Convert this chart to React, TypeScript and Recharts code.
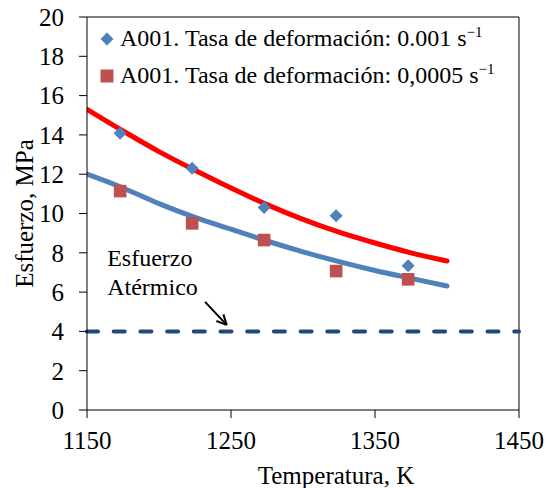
import React from 'react';
import {
  ComposedChart, Line, Scatter, XAxis, YAxis, ReferenceLine, ReferenceDot,
} from 'recharts';

const xTicks = [1150, 1250, 1350, 1450];
const yTicks = [0, 2, 4, 6, 8, 10, 12, 14, 16, 18, 20];

const tempK = [1173, 1223, 1273, 1323, 1373];
const stressRate001 = [14.08, 12.3, 10.3, 9.89, 7.34];
const stressRate0005 = [11.14, 9.5, 8.65, 7.07, 6.65];

const fitTemps = [1150, 1175, 1200, 1225, 1250, 1275, 1300, 1325, 1350, 1375, 1400];
const fitRate001 = [15.3, 14.2, 13.15, 12.2, 11.3, 10.45, 9.7, 9.05, 8.5, 8.0, 7.58];
const fitRate0005 = [12.0, 11.3, 10.5, 9.8, 9.2, 8.6, 8.05, 7.55, 7.1, 6.7, 6.31];

const athermalStress = 4;
const annotationLines = ['Esfuerzo', 'Atérmico'];
const annotationTextX = 1164;
const annotationTextY = [7.74, 6.26];
const arrowFrom = { x: 1232, y: 5.5 };
const arrowTo = { x: 1247, y: 4.33 };

const legendLabels = [
  'A001. Tasa de deformación: 0.001 s',
  'A001. Tasa de deformación: 0,0005 s',
];

const pts001 = tempK.map((x, i) => ({ x, y: stressRate001[i] }));
const pts0005 = tempK.map((x, i) => ({ x, y: stressRate0005[i] }));
const fit001 = fitTemps.map((x, i) => ({ x, y: fitRate001[i] }));
const fit0005 = fitTemps.map((x, i) => ({ x, y: fitRate0005[i] }));

const FONT = '"Liberation Serif", serif';
const BLUE = '#4F81BD';
const MARKER_RED = '#C0504D';

const Diamond = (props: any) => {
  const { cx, cy } = props;
  const r = 6.5;
  return <polygon points={`${cx},${cy - r} ${cx + r},${cy} ${cx},${cy + r} ${cx - r},${cy}`} fill={BLUE} />;
};
const Square = (props: any) => {
  const { cx, cy } = props;
  const r = 6.3;
  return <rect x={cx - r} y={cy - r} width={2 * r} height={2 * r} fill={MARKER_RED} />;
};

const Arrow = (props: any) => {
  const { x1, y1, x2, y2 } = props;
  const ang = Math.atan2(y2 - y1, x2 - x1);
  const L = 11;
  const a1 = ang + Math.PI - 0.45;
  const a2 = ang + Math.PI + 0.45;
  return (
    <g stroke="#000" strokeWidth={2} fill="none">
      <line x1={x1} y1={y1} x2={x2} y2={y2} />
      <line x1={x2} y1={y2} x2={x2 + L * Math.cos(a1)} y2={y2 + L * Math.sin(a1)} />
      <line x1={x2} y1={y2} x2={x2 + L * Math.cos(a2)} y2={y2 + L * Math.sin(a2)} />
    </g>
  );
};

const LegendBox = () => (
  <div style={{ position: 'absolute', left: 100, top: 20, fontFamily: FONT, fontSize: 24, color: '#000' }}>
    {legendLabels.map((t, i) => (
      <div key={i} style={{ display: 'flex', alignItems: 'center', height: 37, whiteSpace: 'nowrap' }}>
        <svg width={14} height={14} style={{ marginRight: 6 }}>
          {i === 0 ? (
            <polygon points="7,0.5 13.5,7 7,13.5 0.5,7" fill={BLUE} />
          ) : (
            <rect x={0.5} y={0.5} width={13} height={13} fill={MARKER_RED} />
          )}
        </svg>
        <span>
          {t}
          <span style={{ fontSize: 15, position: 'relative', top: -9 }}>−1</span>
        </span>
      </div>
    ))}
  </div>
);

export default function App() {
  return (
    <div style={{ position: 'absolute', left: 0, top: 0, width: 548, height: 488, background: '#fff', fontFamily: FONT }}>
      <ComposedChart width={548} height={488} margin={{ top: 17, right: 29, left: 0, bottom: 0 }} style={{ fontFamily: FONT }}>
        <XAxis
          type="number"
          dataKey="x"
          domain={[1150, 1450]}
          ticks={xTicks}
          interval={0}
          allowDataOverflow
          height={78}
          stroke="#000"
          tickSize={8}
          tickMargin={13}
          tick={{ fill: '#000', fontSize: 25, fontFamily: FONT }}
          label={{
            content: (p: any) => {
              const vb = p.viewBox;
              return (
                <text x={vb.x + vb.width / 2 + 33} y={475} textAnchor="middle" dominantBaseline="central"
                  fill="#000" fontSize={25} fontFamily={FONT}>Temperatura, K</text>
              );
            },
          }}
        />
        <YAxis
          type="number"
          domain={[0, 20]}
          ticks={yTicks}
          interval={0}
          width={87}
          stroke="#000"
          tickSize={8}
          tickMargin={15}
          tick={{ fill: '#000', fontSize: 25, fontFamily: FONT }}
          label={{
            content: (p: any) => {
              const vb = p.viewBox;
              const cx = 24;
              const cy = vb.y + vb.height / 2;
              return (
                <text x={cx} y={cy} textAnchor="middle" dominantBaseline="central"
                  transform={`rotate(-90, ${cx}, ${cy})`} fill="#000" fontSize={25} fontFamily={FONT}>
                  Esfuerzo, MPa
                </text>
              );
            },
          }}
        />
        <ReferenceLine y={20} stroke="#000" strokeWidth={1} />
        <ReferenceLine x={1450} stroke="#000" strokeWidth={1} />
        <ReferenceLine y={athermalStress} stroke="#1F497D" strokeWidth={4} strokeDasharray="11 15.7" strokeLinecap="round" />
        <Line data={fit001} dataKey="y" type="monotone" stroke="#FF0000" strokeWidth={5} dot={false} isAnimationActive={false} strokeLinecap="round" />
        <Line data={fit0005} dataKey="y" type="monotone" stroke={BLUE} strokeWidth={5} dot={false} isAnimationActive={false} strokeLinecap="round" />
        <Scatter data={pts001} dataKey="y" shape={<Diamond />} isAnimationActive={false} />
        <Scatter data={pts0005} dataKey="y" shape={<Square />} isAnimationActive={false} />
        <ReferenceLine segment={[arrowFrom, arrowTo]} shape={(p: any) => <Arrow {...p} />} />
        {annotationLines.map((t, i) => (
          <ReferenceDot key={t} x={annotationTextX} y={annotationTextY[i]} r={0}
            shape={(p: any) => (
              <text x={p.cx} y={p.cy} dominantBaseline="central" fill="#000" fontSize={24} fontFamily={FONT}>{t}</text>
            )} />
        ))}
      </ComposedChart>
      <LegendBox />
    </div>
  );
}
